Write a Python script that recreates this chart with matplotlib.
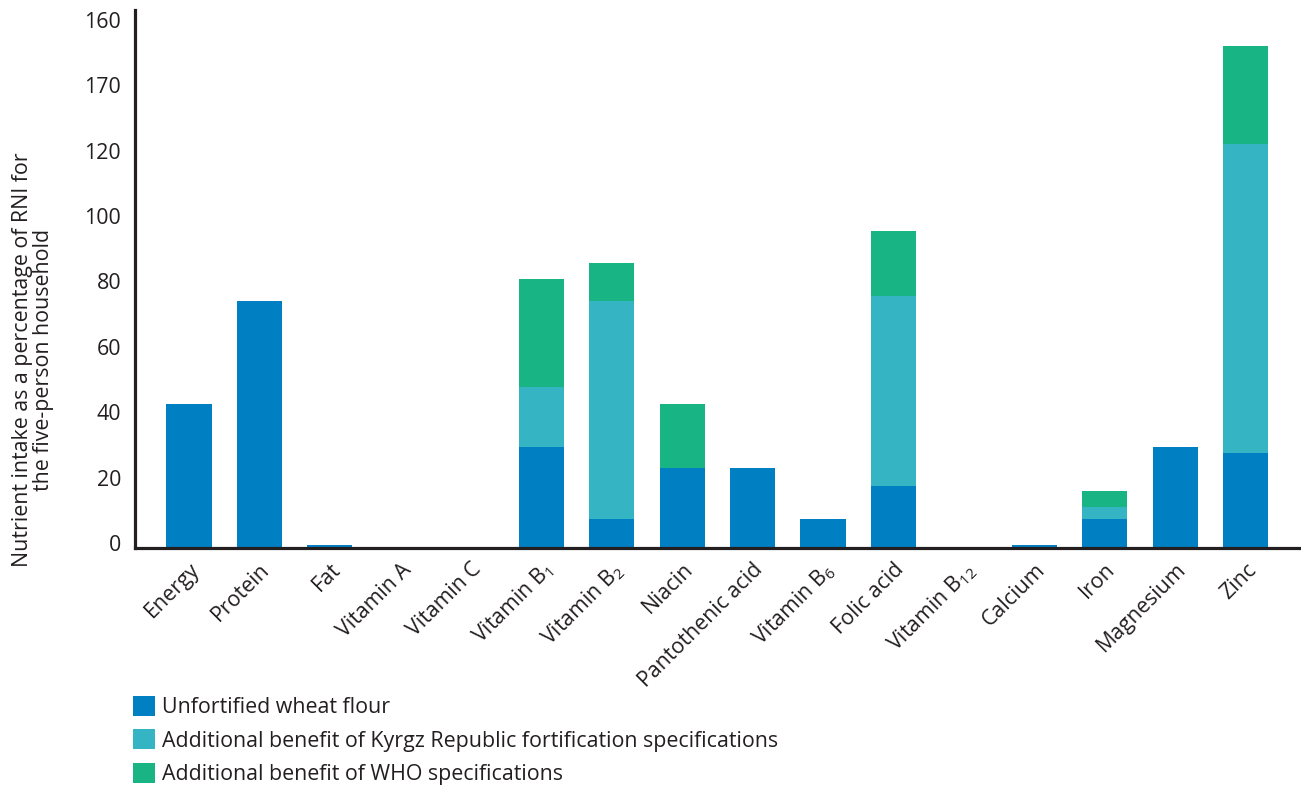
import matplotlib
matplotlib.use("Agg")
import matplotlib.pyplot as plt
import matplotlib.transforms as mtransforms
from matplotlib.patches import Patch
import numpy as np

categories = ["Energy", "Protein", "Fat", "Vitamin A", "Vitamin C",
              r"Vitamin B$\mathregular{_{1}}$", r"Vitamin B$\mathregular{_{2}}$",
              "Niacin", "Pantothenic acid", r"Vitamin B$\mathregular{_{6}}$",
              "Folic acid", r"Vitamin B$\mathregular{_{12}}$", "Calcium", "Iron",
              "Magnesium", "Zinc"]
unfortified = [44, 75.6, 1, 0, 0, 30.8, 9, 24.5, 24.5, 9, 19, 0, 1, 9, 30.8, 29.2]
kyrgyz_extra = [0, 0, 0, 0, 0, 18.5, 66.5, 0, 0, 0, 58, 0, 0, 3.4, 0, 94.2]
who_extra = [0, 0, 0, 0, 0, 32.8, 11.6, 19.5, 0, 0, 20, 0, 0, 4.9, 0, 30]
ytick_values = [0, 20, 40, 60, 80, 100, 120, 140, 160]
ytick_labels = ["0", "20", "40", "60", "80", "100", "120", "170", "160"]
series_names = ["Unfortified wheat flour",
                "Additional benefit of Kyrgz Republic fortification specifications",
                "Additional benefit of WHO specifications"]
colors = ["#0080C3", "#35B5C4", "#18B483"]

plt.rcParams['font.family'] = ['Open Sans', 'DejaVu Sans']
plt.rcParams['mathtext.fontset'] = 'custom'
plt.rcParams['mathtext.rm'] = 'Open Sans'
plt.rcParams['mathtext.it'] = 'Open Sans'
plt.rcParams['mathtext.bf'] = 'Open Sans'

FS = 15.4
W, H = 1301, 789
fig = plt.figure(figsize=(W / 100, H / 100), dpi=100)
left, right, bottom, top = 135, 1300, 548, 10
ax = fig.add_axes([left / W, 1 - bottom / H, (right - left) / W, (bottom - top) / H])

x = np.arange(len(categories))
bw = 0.64
u = np.array(unfortified)
k = np.array(kyrgyz_extra)
w = np.array(who_extra)
ax.bar(x, u, bw, color=colors[0], label=series_names[0], zorder=2)
ax.bar(x, k, bw, bottom=u, color=colors[1], label=series_names[1], zorder=2)
ax.bar(x, w, bw, bottom=u + k, color=colors[2], label=series_names[2], zorder=2)

ax.set_xlim(-0.766, 15.77)
ax.set_ylim(0, 164.5)
ax.set_yticks(ytick_values)
ax.set_yticklabels(ytick_labels, fontsize=FS, color="#231f20")
ax.set_xticks(x)
ax.set_xticklabels(categories, fontsize=FS, rotation=45, ha='right',
                   rotation_mode='anchor', color="#231f20")
ax.tick_params(axis='both', length=0)
ax.tick_params(axis='y', pad=10)
ax.tick_params(axis='x', pad=8)
yoff = mtransforms.ScaledTranslation(0, 3.6 / 72, fig.dpi_scale_trans)
for lab in ax.get_yticklabels():
    lab.set_transform(lab.get_transform() + yoff)
for s in ['top', 'right']:
    ax.spines[s].set_visible(False)
for s in ['left', 'bottom']:
    ax.spines[s].set_linewidth(2.3)
    ax.spines[s].set_color("#231f20")
    ax.spines[s].set_zorder(3)

fig.text(33 / W, 1 - 360 / H,
         "Nutrient intake as a percentage of RNI for\nthe five-person household",
         rotation=90, ha='center', va='center', fontsize=FS, color="#231f20",
         multialignment='center', linespacing=1.05)

handles = [Patch(facecolor=c, edgecolor='none') for c in colors]
fig.legend(handles, series_names, loc='upper left',
           bbox_to_anchor=(133 / W, 1 - 696 / H), frameon=False,
           fontsize=FS, handlelength=1.05, handleheight=1.05,
           handletextpad=0.3, labelspacing=0.52, borderaxespad=0, borderpad=0,
           labelcolor="#231f20")

fig.savefig("out.png", dpi=100)
